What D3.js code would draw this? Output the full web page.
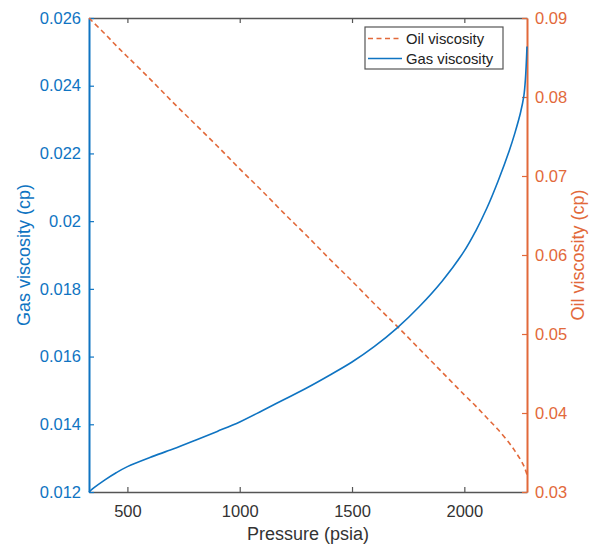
<!DOCTYPE html>
<html>
<head>
<meta charset="utf-8">
<script src="https://cdn.jsdelivr.net/npm/d3@7"></script>
<style>
  body { margin: 0; background: #fff; }
  text { font-family: "Liberation Sans", Arial, sans-serif; }
</style>
</head>
<body>
<div id="chart"></div>
<script>
// pressure grid (psia) and the two series
const pressure = [329, 350, 400, 450, 500, 600, 700, 800, 900, 1000, 1100, 1200, 1300, 1400, 1500,
  1600, 1700, 1800, 1900, 2000, 2050, 2100, 2150, 2200, 2225, 2250, 2265, 2272, 2279]
const gasVisc = [0.01200, 0.01212, 0.01236, 0.01257, 0.01275, 0.01302, 0.01326, 0.01352, 0.01379, 0.01407,
  0.01440, 0.01474, 0.01508, 0.01545, 0.01584, 0.01630, 0.01684, 0.01748, 0.01822, 0.01912,
  0.01970, 0.02038, 0.02118, 0.02208, 0.02260, 0.02320, 0.02370, 0.02420, 0.02516]
const oilVisc = [0.0900, 0.0894, 0.0880, 0.0865, 0.0851, 0.0823, 0.0794, 0.0766, 0.0738, 0.0709,
  0.0681, 0.0652, 0.0624, 0.0595, 0.0567, 0.0538, 0.0510, 0.0481, 0.0452, 0.0423,
  0.0409, 0.0394, 0.0379, 0.0362, 0.0352, 0.0341, 0.0333, 0.0328, 0.0322]

const xTicks = [500, 1000, 1500, 2000]
const gasTicks = [0.012, 0.014, 0.016, 0.018, 0.02, 0.022, 0.024, 0.026]
const oilTicks = [0.03, 0.04, 0.05, 0.06, 0.07, 0.08, 0.09]

const blue = '#0f74c2'
const orange = '#e2693a'
const gray = '#555'

const width = 589, height = 548
const margin = { top: 18, right: 62, bottom: 56, left: 89 }
const innerW = width - margin.left - margin.right
const innerH = height - margin.top - margin.bottom

const svg = d3.select('#chart').append('svg')
  .attr('width', width)
  .attr('height', height)

const g = svg.append('g')
  .attr('transform', `translate(${margin.left},${margin.top})`)

const x = d3.scaleLinear().domain([329, 2279]).range([0, innerW])
const yGas = d3.scaleLinear().domain([0.012, 0.026]).range([innerH, 0])
const yOil = d3.scaleLinear().domain([0.03, 0.09]).range([innerH, 0])

const fmt = d => String(+d.toFixed(3))

// bottom + top axes (gray, ticks inward)
const xBottom = g.append('g')
  .attr('transform', `translate(0,${innerH})`)
  .call(d3.axisBottom(x).tickValues(xTicks).tickSizeInner(-5).tickSizeOuter(0).tickPadding(13).tickFormat(d3.format('d')))
const xTop = g.append('g')
  .call(d3.axisTop(x).tickValues(xTicks).tickSizeInner(-5).tickSizeOuter(0).tickFormat(''))
;[xBottom, xTop].forEach(a => {
  a.select('.domain').attr('stroke', gray).attr('stroke-width', 1.5)
  a.selectAll('.tick line').attr('stroke', gray).attr('stroke-width', 1.2)
  a.selectAll('.tick text').attr('fill', '#333').style('font-size', '16.5px')
})

// left axis (gas)
const yLeft = g.append('g')
  .call(d3.axisLeft(yGas).tickValues(gasTicks).tickSizeInner(-5).tickSizeOuter(0).tickPadding(8).tickFormat(fmt))
yLeft.select('.domain').attr('stroke', blue).attr('stroke-width', 2)
yLeft.selectAll('.tick line').attr('stroke', blue).attr('stroke-width', 1.2)
yLeft.selectAll('.tick text').attr('fill', blue).style('font-size', '16.5px')

// right axis (oil)
const yRight = g.append('g')
  .attr('transform', `translate(${innerW},0)`)
  .call(d3.axisRight(yOil).tickValues(oilTicks).tickSizeInner(-5).tickSizeOuter(0).tickPadding(8).tickFormat(fmt))
yRight.select('.domain').attr('stroke', orange).attr('stroke-width', 2)
yRight.selectAll('.tick line').attr('stroke', orange).attr('stroke-width', 1.2)
yRight.selectAll('.tick text').attr('fill', orange).style('font-size', '16.5px')

// curves
const rows = pressure.map((p, i) => ({ p, gas: gasVisc[i], oil: oilVisc[i] }))
const smooth = d3.curveCatmullRom.alpha(0.5)

g.append('path')
  .datum(rows)
  .attr('fill', 'none')
  .attr('stroke', orange)
  .attr('stroke-width', 1.6)
  .attr('stroke-dasharray', '5,3.5')
  .attr('d', d3.line().x(d => x(d.p)).y(d => yOil(d.oil)).curve(smooth))

g.append('path')
  .datum(rows)
  .attr('fill', 'none')
  .attr('stroke', blue)
  .attr('stroke-width', 1.6)
  .attr('d', d3.line().x(d => x(d.p)).y(d => yGas(d.gas)).curve(smooth))

// axis titles
svg.append('text')
  .attr('x', margin.left + innerW / 2)
  .attr('y', 540)
  .attr('text-anchor', 'middle')
  .attr('fill', '#333')
  .style('font-size', '18px')
  .text('Pressure (psia)')

svg.append('text')
  .attr('transform', `translate(30,${margin.top + innerH / 2}) rotate(-90)`)
  .attr('text-anchor', 'middle')
  .attr('fill', blue)
  .style('font-size', '18px')
  .text('Gas viscosity (cp)')

svg.append('text')
  .attr('transform', `translate(584,${margin.top + innerH / 2}) rotate(-90)`)
  .attr('text-anchor', 'middle')
  .attr('fill', orange)
  .style('font-size', '18px')
  .text('Oil viscosity (cp)')

// legend
const legend = svg.append('g').attr('transform', 'translate(365,27)')
legend.append('rect')
  .attr('width', 138).attr('height', 42)
  .attr('fill', '#fff').attr('stroke', gray).attr('stroke-width', 1.2)

const items = [
  { label: 'Oil viscosity', color: orange, dash: '5,3.5' },
  { label: 'Gas viscosity', color: blue, dash: null }
]
items.forEach((it, i) => {
  const row = legend.append('g').attr('transform', `translate(0,${11.5 + i * 20})`)
  row.append('line')
    .attr('x1', 3).attr('x2', 37)
    .attr('stroke', it.color).attr('stroke-width', 1.6)
    .attr('stroke-dasharray', it.dash)
  row.append('text')
    .attr('x', 41).attr('y', 5.5)
    .attr('fill', '#222')
    .style('font-size', '14.8px')
    .text(it.label)
})
</script>
</body>
</html>
